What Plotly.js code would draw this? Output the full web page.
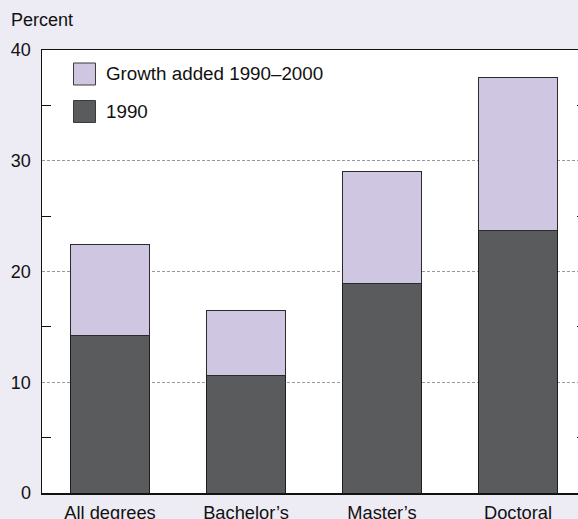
<!DOCTYPE html>
<html>
<head>
<meta charset="utf-8">
<script src="https://cdn.plot.ly/plotly-3.0.1.min.js"></script>
<style>
html,body{margin:0;padding:0;overflow:hidden;background:#EDEBF4;}
#chart{width:586px;height:519px;}
</style>
</head>
<body>
<div id="chart"></div>
<script>
var categories = ["All degrees", "Bachelor\u2019s", "Master\u2019s", "Doctoral"];
var base1990 = [14.2, 10.6, 18.9, 23.7];
var growth = [8.2, 5.9, 10.1, 13.8];
var seriesNames = ["Growth added 1990\u20132000", "1990"];
var yTicks = [0, 10, 20, 30, 40];
var yMinorTicks = [5, 15, 25, 35];
var axisTitle = "Percent";

(function () {
  var lightColor = "#CFC7E1";
  var darkColor = "#5A5B5D";
  var font = "'Liberation Sans', Arial, Helvetica, sans-serif";

  var traces = [
    {type: "bar", name: seriesNames[1], x: categories, y: base1990,
     marker: {color: darkColor, line: {color: "#1e1e1e", width: 1}}, showlegend: false, hoverinfo: "skip"},
    {type: "bar", name: seriesNames[0], x: categories, y: growth,
     marker: {color: lightColor, line: {color: "#2a2a2a", width: 1}}, showlegend: false, hoverinfo: "skip"}
  ];

  // legend drawn with paper-referenced boxes
  var plotL = 42, plotW = 544, plotT = 50, plotH = 443;
  function px2x(p) { return (p - plotL) / plotW; }
  function px2y(p) { return (plotT + plotH - p) / plotH; }
  var legendColors = [lightColor, darkColor];
  var shapes = [], annotations = [];
  for (var i = 0; i < seriesNames.length; i++) {
    var boxTop = 63 + i * 37.5;
    shapes.push({type: "rect", xref: "paper", yref: "paper",
      x0: px2x(73.5), x1: px2x(95.5), y0: px2y(boxTop), y1: px2y(boxTop + 22),
      fillcolor: legendColors[i], line: {color: "#3a3a3a", width: 1}});
    annotations.push({xref: "paper", yref: "paper", x: px2x(104), y: px2y(boxTop + 11),
      xanchor: "left", yanchor: "middle", showarrow: false, text: seriesNames[i],
      font: {family: font, size: 18.8, color: "#111"}});
  }
  annotations.push({xref: "paper", yref: "paper", x: px2x(9), y: px2y(20),
    xanchor: "left", yanchor: "middle", showarrow: false, text: axisTitle,
    font: {family: font, size: 18, color: "#111"}});

  var layout = {
    width: 586, height: 519,
    margin: {l: 42, r: 0, t: 50, b: 26, pad: 0},
    paper_bgcolor: "#EDEBF4",
    plot_bgcolor: "#FFFFFF",
    barmode: "stack",
    bargap: 0.415,
    font: {family: font, size: 18, color: "#111"},
    xaxis: {
      type: "category", range: [-0.5, 3.5], showline: true, linecolor: "#111", linewidth: 1.5,
      mirror: true, ticks: "", showgrid: false, zeroline: false, fixedrange: true,
      ticklabelstandoff: 3,
      tickfont: {family: font, size: 18.3, color: "#111"}
    },
    yaxis: {
      range: [0, 40], tickvals: yTicks, ticktext: yTicks.map(String), ticks: "",
      showline: true, linecolor: "#111", linewidth: 1.5, mirror: "allticks",
      showgrid: true, gridcolor: "#9a9a9a", gridwidth: 1, griddash: "3px,2px",
      zeroline: false, fixedrange: true, ticklabelstandoff: 6,
      tickfont: {family: font, size: 18, color: "#111"},
      minor: {tickvals: yMinorTicks, ticks: "inside", ticklen: 9, tickcolor: "#111", tickwidth: 1, showgrid: false}
    },
    shapes: shapes,
    annotations: annotations
  };

  Plotly.newPlot("chart", traces, layout, {displayModeBar: false, staticPlot: true});
})();
</script>
</body>
</html>
